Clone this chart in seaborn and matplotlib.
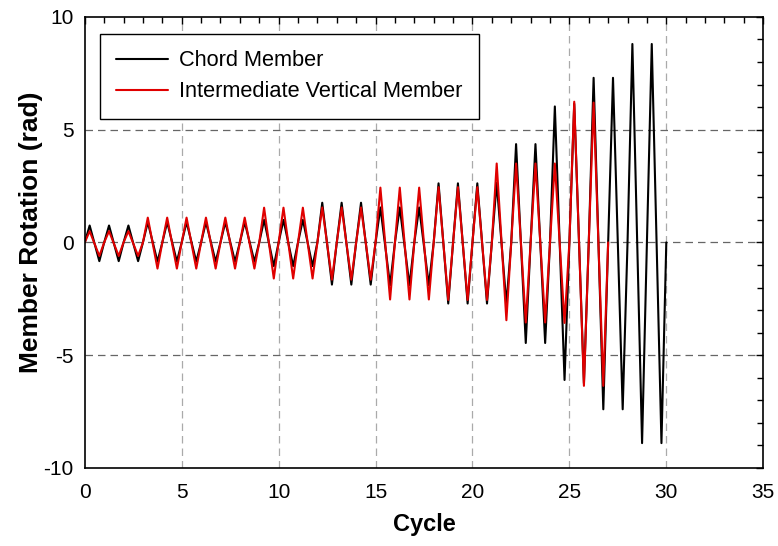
import numpy as np
import pandas as pd
import seaborn as sns
import matplotlib.pyplot as plt
from matplotlib.ticker import MultipleLocator

# peak values per loading cycle
chord_pos = [0.75, 0.75, 0.75, 0.9, 0.9, 0.9, 0.9, 0.9, 0.9, 1.0, 1.0, 1.0,
             1.76, 1.76, 1.76, 1.55, 1.55, 1.55, 2.62, 2.62, 2.62, 2.65,
             4.36, 4.36, 6.03, 6.15, 7.3, 7.3, 8.8, 8.8]
chord_neg = [-0.83, -0.83, -0.83, -0.85, -0.85, -0.85, -0.85, -0.85, -0.85,
             -1.05, -1.05, -1.05, -1.87, -1.87, -1.87, -1.9, -1.9, -1.9,
             -2.71, -2.71, -2.71, -2.75, -4.46, -4.46, -6.1, -6.25,
             -7.4, -7.4, -8.9, -8.9]
vert_pos = [0.5, 0.5, 0.5, 1.1, 1.1, 1.1, 1.1, 1.1, 1.1, 1.54, 1.54, 1.54,
            1.55, 1.55, 1.55, 2.43, 2.43, 2.43, 2.45, 2.45, 2.45,
            3.5, 3.5, 3.5, 3.5, 6.24, 6.2]
vert_neg = [-0.6, -0.6, -0.6, -1.16, -1.16, -1.16, -1.16, -1.16, -1.16,
            -1.6, -1.6, -1.6, -1.65, -1.65, -1.65, -2.53, -2.53, -2.53,
            -2.55, -2.55, -2.55, -3.45, -3.55, -3.55, -3.57, -6.36, -6.36]

series_names = ['Chord Member', 'Intermediate Vertical Member']
colors = ['black', '#e00000']


def cycle_path(pos, neg):
    # one cycle: 0 -> +peak -> -peak -> 0
    xs, ys = [0.0], [0.0]
    for i, (p, n) in enumerate(zip(pos, neg)):
        xs += [i + 0.25, i + 0.75, i + 1.0]
        ys += [p, n, 0.0]
    return xs, ys


rows = []
for name, (pos, neg) in zip(series_names, [(chord_pos, chord_neg), (vert_pos, vert_neg)]):
    xs, ys = cycle_path(pos, neg)
    rows.append(pd.DataFrame({'Cycle': xs, 'Rotation': ys, 'Member': name}))
df = pd.concat(rows, ignore_index=True)

sns.set_style('white')
plt.rcParams['font.family'] = ['Liberation Sans', 'DejaVu Sans']
plt.rcParams['axes.unicode_minus'] = False
plt.rcParams['text.color'] = 'black'
plt.rcParams['axes.labelcolor'] = 'black'
plt.rcParams['xtick.color'] = 'black'
plt.rcParams['ytick.color'] = 'black'

fig = plt.figure(figsize=(7.78, 5.46), dpi=100)
ax = fig.add_axes([0.109, 0.143, 0.872, 0.826])

sns.lineplot(data=df, x='Cycle', y='Rotation', hue='Member', hue_order=series_names,
             palette=colors, sort=False, estimator=None, linewidth=1.5, ax=ax)

# grid lines at major ticks only (inside the frame)
for xv in [5, 10, 15, 20, 25, 30]:
    ax.axvline(xv, color='#aaaaaa', lw=0.9, ls=(0, (6, 4)), zorder=0)
for yv in [5, 0, -5]:
    ax.axhline(yv, color='#666666', lw=0.9, ls=(0, (6, 4)), zorder=0)

ax.set_xlim(0, 35)
ax.set_ylim(-10, 10)
ax.xaxis.set_major_locator(MultipleLocator(5))
ax.xaxis.set_minor_locator(MultipleLocator(1))
ax.yaxis.set_major_locator(MultipleLocator(5))
ax.yaxis.set_minor_locator(MultipleLocator(1))
ax.tick_params(which='both', direction='in', top=True, right=True, colors='black')
ax.tick_params(which='major', length=5, width=1, labelsize=15)
ax.tick_params(which='minor', length=4, width=1)
ax.tick_params(axis='x', which='major', pad=11)
ax.tick_params(axis='y', which='major', pad=8)
for s in ax.spines.values():
    s.set_color('black')
    s.set_linewidth(1.2)

ax.set_xlabel('Cycle', fontsize=17, fontweight='bold', labelpad=8)
ax.set_ylabel('Member Rotation (rad)', fontsize=19, fontweight='bold')
ax.yaxis.set_label_coords(-0.062, 0.523)

leg = ax.legend(loc='upper left', bbox_to_anchor=(0.022, 0.962), fontsize=15.7,
                frameon=True, fancybox=False, edgecolor='black', framealpha=1,
                handlelength=2.4, handletextpad=0.5, borderpad=0.75, labelspacing=0.45,
                borderaxespad=0)
leg.get_frame().set_linewidth(1.0)
for t in leg.get_texts():
    t.set_color('black')

fig.savefig('out.png', dpi=100)
